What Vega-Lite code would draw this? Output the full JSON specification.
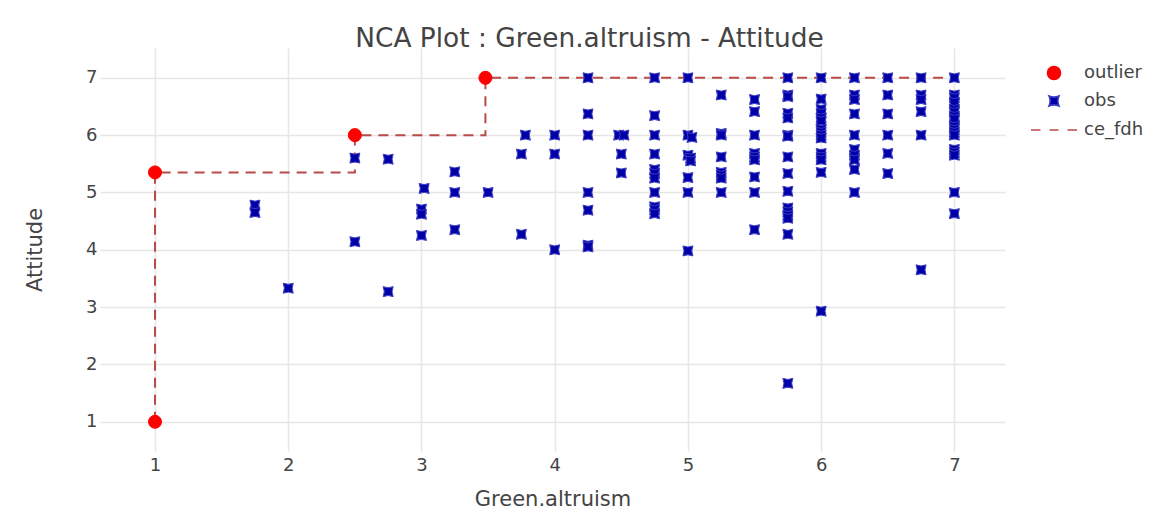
{
  "$schema": "https://vega.github.io/schema/vega-lite/v6.json",
  "width": 905,
  "height": 403,
  "autosize": {"type": "none"},
  "padding": {"left": 100, "top": 48, "right": 152, "bottom": 58},
  "background": "white",
  "title": {
    "text": "NCA Plot : Green.altruism - Attitude",
    "font": "DejaVu Sans",
    "fontSize": 26.4,
    "fontWeight": "normal",
    "color": "#444444",
    "anchor": "middle",
    "dx": 37,
    "dy": 25,
    "baseline": "alphabetic",
    "offset": 0
  },
  "config": {
    "view": {"stroke": null},
    "axis": {
      "grid": true,
      "gridColor": "#e6e6e6",
      "gridWidth": 1.5,
      "ticks": false,
      "tickSize": 0,
      "domain": false,
      "format": "d",
      "labelFont": "DejaVu Sans",
      "labelFontSize": 18,
      "labelColor": "#444444",
      "titleFont": "DejaVu Sans",
      "titleFontSize": 21,
      "titleFontWeight": "normal",
      "titleColor": "#444444"
    }
  },
  "datasets": {
    "fdh": [
      {"step": 1, "x": 1, "y": 1},
      {"step": 2, "x": 1, "y": 5.35},
      {"step": 3, "x": 2.5, "y": 5.35},
      {"step": 4, "x": 2.5, "y": 6},
      {"step": 5, "x": 3.48, "y": 6},
      {"step": 6, "x": 3.48, "y": 7},
      {"step": 7, "x": 7, "y": 7}
    ],
    "pts": [
      {"series": "obs", "x": 1.75, "y": 4.78},
      {"series": "obs", "x": 1.75, "y": 4.65},
      {"series": "obs", "x": 2, "y": 3.33},
      {"series": "obs", "x": 2.5, "y": 5.6},
      {"series": "obs", "x": 2.5, "y": 4.14},
      {"series": "obs", "x": 2.75, "y": 5.58},
      {"series": "obs", "x": 2.75, "y": 3.27},
      {"series": "obs", "x": 3, "y": 4.71},
      {"series": "obs", "x": 3, "y": 4.62},
      {"series": "obs", "x": 3, "y": 4.25},
      {"series": "obs", "x": 3.02, "y": 5.07},
      {"series": "obs", "x": 3.25, "y": 5.36},
      {"series": "obs", "x": 3.25, "y": 5.0},
      {"series": "obs", "x": 3.25, "y": 4.35},
      {"series": "obs", "x": 3.5, "y": 5.0},
      {"series": "obs", "x": 3.75, "y": 5.67},
      {"series": "obs", "x": 3.75, "y": 4.27},
      {"series": "obs", "x": 3.78, "y": 6.0},
      {"series": "obs", "x": 4, "y": 6.0},
      {"series": "obs", "x": 4, "y": 5.67},
      {"series": "obs", "x": 4, "y": 4.0},
      {"series": "obs", "x": 4.25, "y": 7},
      {"series": "obs", "x": 4.25, "y": 6.37},
      {"series": "obs", "x": 4.25, "y": 6.0},
      {"series": "obs", "x": 4.25, "y": 5.0},
      {"series": "obs", "x": 4.25, "y": 4.69},
      {"series": "obs", "x": 4.25, "y": 4.08},
      {"series": "obs", "x": 4.25, "y": 4.05},
      {"series": "obs", "x": 4.48, "y": 6.0},
      {"series": "obs", "x": 4.52, "y": 6.0},
      {"series": "obs", "x": 4.5, "y": 5.67},
      {"series": "obs", "x": 4.5, "y": 5.34},
      {"series": "obs", "x": 4.75, "y": 7},
      {"series": "obs", "x": 4.75, "y": 6.34},
      {"series": "obs", "x": 4.75, "y": 6.0},
      {"series": "obs", "x": 4.75, "y": 5.67},
      {"series": "obs", "x": 4.75, "y": 5.4},
      {"series": "obs", "x": 4.75, "y": 5.33},
      {"series": "obs", "x": 4.75, "y": 5.25},
      {"series": "obs", "x": 4.75, "y": 5.0},
      {"series": "obs", "x": 4.75, "y": 4.75},
      {"series": "obs", "x": 4.75, "y": 4.7},
      {"series": "obs", "x": 4.75, "y": 4.63},
      {"series": "obs", "x": 5, "y": 7},
      {"series": "obs", "x": 5, "y": 6.0},
      {"series": "obs", "x": 5.03, "y": 5.96},
      {"series": "obs", "x": 5, "y": 5.65},
      {"series": "obs", "x": 5.02, "y": 5.6},
      {"series": "obs", "x": 5.02, "y": 5.55},
      {"series": "obs", "x": 5, "y": 5.26},
      {"series": "obs", "x": 5, "y": 5.0},
      {"series": "obs", "x": 5, "y": 3.98},
      {"series": "obs", "x": 5.25, "y": 6.7},
      {"series": "obs", "x": 5.25, "y": 6.03},
      {"series": "obs", "x": 5.25, "y": 6.0},
      {"series": "obs", "x": 5.25, "y": 5.62},
      {"series": "obs", "x": 5.25, "y": 5.35},
      {"series": "obs", "x": 5.25, "y": 5.3},
      {"series": "obs", "x": 5.25, "y": 5.25},
      {"series": "obs", "x": 5.25, "y": 5.0},
      {"series": "obs", "x": 5.5, "y": 6.62},
      {"series": "obs", "x": 5.5, "y": 6.41},
      {"series": "obs", "x": 5.5, "y": 6.0},
      {"series": "obs", "x": 5.5, "y": 5.68},
      {"series": "obs", "x": 5.5, "y": 5.62},
      {"series": "obs", "x": 5.5, "y": 5.57},
      {"series": "obs", "x": 5.5, "y": 5.27},
      {"series": "obs", "x": 5.5, "y": 5.0},
      {"series": "obs", "x": 5.5, "y": 4.35},
      {"series": "obs", "x": 5.75, "y": 7},
      {"series": "obs", "x": 5.75, "y": 6.7},
      {"series": "obs", "x": 5.75, "y": 6.67},
      {"series": "obs", "x": 5.75, "y": 6.38},
      {"series": "obs", "x": 5.75, "y": 6.3},
      {"series": "obs", "x": 5.75, "y": 6.0},
      {"series": "obs", "x": 5.75, "y": 5.98},
      {"series": "obs", "x": 5.75, "y": 5.62},
      {"series": "obs", "x": 5.75, "y": 5.33},
      {"series": "obs", "x": 5.75, "y": 5.02},
      {"series": "obs", "x": 5.75, "y": 4.73},
      {"series": "obs", "x": 5.75, "y": 4.66},
      {"series": "obs", "x": 5.75, "y": 4.6},
      {"series": "obs", "x": 5.75, "y": 4.55},
      {"series": "obs", "x": 5.75, "y": 4.27},
      {"series": "obs", "x": 5.75, "y": 1.67},
      {"series": "obs", "x": 6, "y": 7},
      {"series": "obs", "x": 6, "y": 6.63},
      {"series": "obs", "x": 6, "y": 6.45},
      {"series": "obs", "x": 6, "y": 6.38},
      {"series": "obs", "x": 6, "y": 6.3},
      {"series": "obs", "x": 6, "y": 6.25},
      {"series": "obs", "x": 6, "y": 6.1},
      {"series": "obs", "x": 6, "y": 6.05},
      {"series": "obs", "x": 6, "y": 6.0},
      {"series": "obs", "x": 6, "y": 5.95},
      {"series": "obs", "x": 6, "y": 5.68},
      {"series": "obs", "x": 6, "y": 5.62},
      {"series": "obs", "x": 6, "y": 5.57},
      {"series": "obs", "x": 6, "y": 5.35},
      {"series": "obs", "x": 6, "y": 2.93},
      {"series": "obs", "x": 6.25, "y": 7},
      {"series": "obs", "x": 6.25, "y": 6.7},
      {"series": "obs", "x": 6.25, "y": 6.62},
      {"series": "obs", "x": 6.25, "y": 6.37},
      {"series": "obs", "x": 6.25, "y": 6.0},
      {"series": "obs", "x": 6.25, "y": 5.75},
      {"series": "obs", "x": 6.25, "y": 5.65},
      {"series": "obs", "x": 6.25, "y": 5.57},
      {"series": "obs", "x": 6.25, "y": 5.4},
      {"series": "obs", "x": 6.25, "y": 5.0},
      {"series": "obs", "x": 6.5, "y": 7},
      {"series": "obs", "x": 6.5, "y": 6.7},
      {"series": "obs", "x": 6.5, "y": 6.37},
      {"series": "obs", "x": 6.5, "y": 6.0},
      {"series": "obs", "x": 6.5, "y": 5.68},
      {"series": "obs", "x": 6.5, "y": 5.33},
      {"series": "obs", "x": 6.75, "y": 7},
      {"series": "obs", "x": 6.75, "y": 6.7},
      {"series": "obs", "x": 6.75, "y": 6.62},
      {"series": "obs", "x": 6.75, "y": 6.41},
      {"series": "obs", "x": 6.75, "y": 6.0},
      {"series": "obs", "x": 6.75, "y": 3.65},
      {"series": "obs", "x": 7, "y": 7},
      {"series": "obs", "x": 7, "y": 6.7},
      {"series": "obs", "x": 7, "y": 6.65},
      {"series": "obs", "x": 7, "y": 6.57},
      {"series": "obs", "x": 7, "y": 6.45},
      {"series": "obs", "x": 7, "y": 6.4},
      {"series": "obs", "x": 7, "y": 6.33},
      {"series": "obs", "x": 7, "y": 6.28},
      {"series": "obs", "x": 7, "y": 6.15},
      {"series": "obs", "x": 7, "y": 6.1},
      {"series": "obs", "x": 7, "y": 6.05},
      {"series": "obs", "x": 7, "y": 6.0},
      {"series": "obs", "x": 7, "y": 5.75},
      {"series": "obs", "x": 7, "y": 5.7},
      {"series": "obs", "x": 7, "y": 5.65},
      {"series": "obs", "x": 7, "y": 5.0},
      {"series": "obs", "x": 7, "y": 4.63},
      {"series": "outlier", "x": 1, "y": 1},
      {"series": "outlier", "x": 1, "y": 5.35},
      {"series": "outlier", "x": 2.5, "y": 6},
      {"series": "outlier", "x": 3.48, "y": 7}
    ]
  },
  "layer": [
    {
      "data": {"name": "fdh"},
      "mark": {"type": "line", "color": "#b84a48", "strokeWidth": 2, "strokeDash": [10, 7]},
      "encoding": {
        "x": {"field": "x", "type": "quantitative", "scale": {"domain": [0.587, 7.38], "nice": false, "zero": false}, "axis": {"values": [1, 2, 3, 4, 5, 6, 7], "title": "Green.altruism", "labelPadding": 5, "titlePadding": 14}},
        "y": {"field": "y", "type": "quantitative", "scale": {"domain": [0.49, 7.52], "nice": false, "zero": false}, "axis": {"values": [1, 2, 3, 4, 5, 6, 7], "title": "Attitude", "labelPadding": 3, "titlePadding": 40}},
        "order": {"field": "step", "type": "quantitative"}
      }
    },
    {
      "data": {"name": "pts"},
      "mark": {"type": "point", "filled": true, "opacity": 1, "strokeWidth": 1},
      "encoding": {
        "x": {"field": "x", "type": "quantitative"},
        "y": {"field": "y", "type": "quantitative"},
        "color": {
          "field": "series", "type": "nominal",
          "scale": {"domain": ["outlier", "obs", "ce_fdh"], "range": ["#ff0000", "#0000a8", "#b84a48"]},
          "legend": {
            "title": null, "orient": "none", "legendX": 943, "legendY": 16,
            "labelFont": "DejaVu Sans", "labelFontSize": 18, "labelColor": "#444444",
            "symbolStrokeWidth": 1.5, "rowPadding": 9, "labelOffset": 19
          }
        },
        "stroke": {
          "field": "series", "type": "nominal",
          "scale": {"domain": ["outlier", "obs", "ce_fdh"], "range": ["#ff0000", "#3a3ac0", "#b84a48"]}
        },
        "shape": {
          "field": "series", "type": "nominal",
          "scale": {"domain": ["outlier", "obs", "ce_fdh"], "range": ["circle", "M -1 -1 Q 0 -0.55 1 -1 Q 0.55 0 1 1 Q 0 0.55 -1 1 Q -0.55 0 -1 -1 Z", "M -2.3 0 L -1.35 0 M -0.45 0 L 0.45 0 M 1.35 0 L 2.3 0"]}
        },
        "size": {
          "field": "series", "type": "nominal",
          "scale": {"type": "ordinal", "domain": ["outlier", "obs", "ce_fdh"], "range": [170, 100, 400]}
        },
        "order": {"field": "series", "type": "nominal", "sort": "ascending"}
      }
    }
  ]
}
